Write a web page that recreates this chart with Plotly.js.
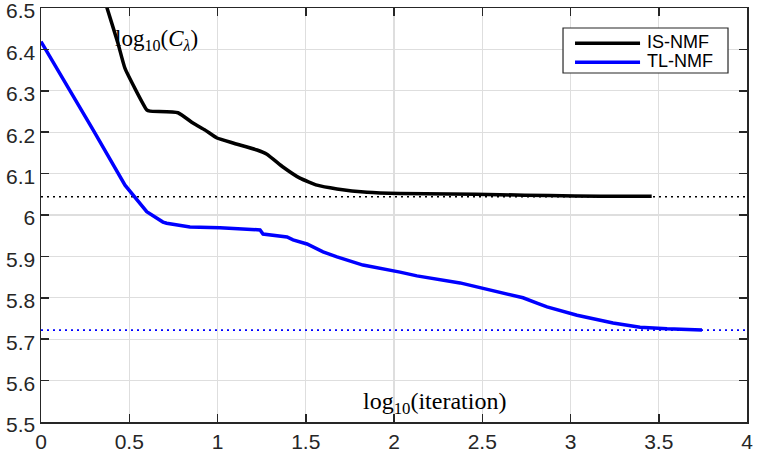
<!DOCTYPE html>
<html>
<head>
<meta charset="utf-8">
<script src="https://cdn.plot.ly/plotly-3.0.1.min.js"></script>
<style>
  html, body { margin: 0; padding: 0; background: #ffffff; }
  #chart { width: 757px; height: 453px; }
</style>
</head>
<body>
<div id="chart"></div>
<script>
// Cost (log10) against log10(iteration) for the two factorisation methods
const isX = [0.30, 0.372, 0.436, 0.476, 0.599, 0.618, 0.776, 0.861, 0.93, 0.997, 1.088, 1.224, 1.28, 1.371, 1.467, 1.564, 1.677, 1.847, 2.034, 2.32, 2.60, 2.88, 3.17, 3.46];
const isY = [6.605, 6.503, 6.415, 6.354, 6.254, 6.251, 6.247, 6.222, 6.205, 6.186, 6.174, 6.157, 6.147, 6.116, 6.089, 6.072, 6.063, 6.055, 6.052, 6.051, 6.049, 6.047, 6.045, 6.045];

const tlX = [0, 0.164, 0.296, 0.476, 0.599, 0.691, 0.712, 0.844, 1.014, 1.241, 1.258, 1.394, 1.428, 1.507, 1.598, 1.677, 1.824, 2.034, 2.13, 2.374, 2.527, 2.731, 2.81, 2.867, 3.037, 3.241, 3.394, 3.547, 3.745];
const tlY = [6.419, 6.302, 6.205, 6.072, 6.008, 5.983, 5.980, 5.971, 5.969, 5.964, 5.954, 5.947, 5.940, 5.930, 5.911, 5.899, 5.879, 5.862, 5.853, 5.836, 5.821, 5.800, 5.787, 5.778, 5.758, 5.739, 5.729, 5.725, 5.722];

// Reference levels reached by each method
const levelX = [0, 4];
const isLevel = 6.044;
const tlLevel = 5.722;

const seriesNames = ['IS-NMF', 'TL-NMF'];
const seriesColors = ['#000000', '#0000ff'];
const xTicks = [0, 0.5, 1, 1.5, 2, 2.5, 3, 3.5, 4];
const xTickText = ['0', '0.5', '1', '1.5', '2', '2.5', '3', '3.5', '4'];
const yTicks = [5.5, 5.6, 5.7, 5.8, 5.9, 6, 6.1, 6.2, 6.3, 6.4, 6.5];
const yTickText = ['5.5', '5.6', '5.7', '5.8', '5.9', '6', '6.1', '6.2', '6.3', '6.4', '6.5'];

const axisColor = '#262626';
const sansFont = '"Liberation Sans", Arial, Helvetica, sans-serif';
const serifFont = '"Liberation Serif", "DejaVu Serif", serif';
const tickFont = { family: sansFont, size: 21, color: axisColor };

const traces = [
  { x: levelX, y: [isLevel, isLevel], mode: 'lines', showlegend: false, hoverinfo: 'skip',
    line: { color: seriesColors[0], width: 1.6, dash: '2px,4px' } },
  { x: levelX, y: [tlLevel, tlLevel], mode: 'lines', showlegend: false, hoverinfo: 'skip',
    line: { color: seriesColors[1], width: 1.6, dash: '2px,4px' } },
  { x: isX, y: isY, mode: 'lines', name: seriesNames[0], showlegend: false,
    line: { color: seriesColors[0], width: 3.5, shape: 'spline', smoothing: 0.4 } },
  { x: tlX, y: tlY, mode: 'lines', name: seriesNames[1], showlegend: false,
    line: { color: seriesColors[1], width: 3.5 } }
];

// Boxed legend in the upper right corner (paper coordinates)
const legendBox = { x0: 0.7394, x1: 0.9731, y0: 0.843, y1: 0.9517 };
const legendRows = [0.9147, 0.8688];
const legendLine = { x0: 0.7564, x1: 0.8485 };
const legendTextX = 0.856;

const shapes = [
  { type: 'rect', xref: 'paper', yref: 'paper',
    x0: legendBox.x0, x1: legendBox.x1, y0: legendBox.y0, y1: legendBox.y1,
    line: { color: axisColor, width: 1.2 }, fillcolor: '#ffffff', layer: 'above' }
];
const annotations = [];
seriesNames.forEach(function (name, i) {
  shapes.push({ type: 'line', xref: 'paper', yref: 'paper',
    x0: legendLine.x0, x1: legendLine.x1, y0: legendRows[i], y1: legendRows[i],
    line: { color: seriesColors[i], width: 3.5 }, layer: 'above' });
  annotations.push({ xref: 'paper', yref: 'paper', x: legendTextX, y: legendRows[i] + 0.004,
    xanchor: 'left', yanchor: 'middle', showarrow: false, text: name,
    font: { family: sansFont, size: 18, color: '#000000' } });
});

annotations.push(
  { x: 0.657, y: 6.423, xref: 'x', yref: 'y', showarrow: false,
    text: 'log<sub>10</sub>(<i>C</i><sub><i>λ</i></sub>)',
    font: { family: serifFont, size: 23, color: '#000000' } },
  { x: 2.227, y: 5.546, xref: 'x', yref: 'y', showarrow: false,
    text: 'log<sub>10</sub>(iteration)',
    font: { family: serifFont, size: 24, color: '#000000' } }
);

const axisBase = {
  showgrid: true, gridcolor: '#dedede', gridwidth: 1.2,
  zeroline: false, showline: true, linecolor: axisColor, linewidth: 1.5,
  mirror: 'ticks', ticks: 'inside', ticklen: 8, tickwidth: 1.5, tickcolor: axisColor,
  tickfont: tickFont, ticklabeloverflow: 'allow'
};

const layout = {
  width: 757, height: 453,
  margin: { l: 41, r: 10, t: 8, b: 31 },
  paper_bgcolor: '#ffffff', plot_bgcolor: '#ffffff',
  showlegend: false,
  xaxis: Object.assign({ range: [0, 4], tickvals: xTicks, ticktext: xTickText }, axisBase),
  yaxis: Object.assign({ range: [5.5, 6.5], tickvals: yTicks, ticktext: yTickText, ticklabelshift: 3 }, axisBase),
  shapes: shapes,
  annotations: annotations
};

Plotly.newPlot('chart', traces, layout, { displayModeBar: false, staticPlot: true });
</script>
</body>
</html>
